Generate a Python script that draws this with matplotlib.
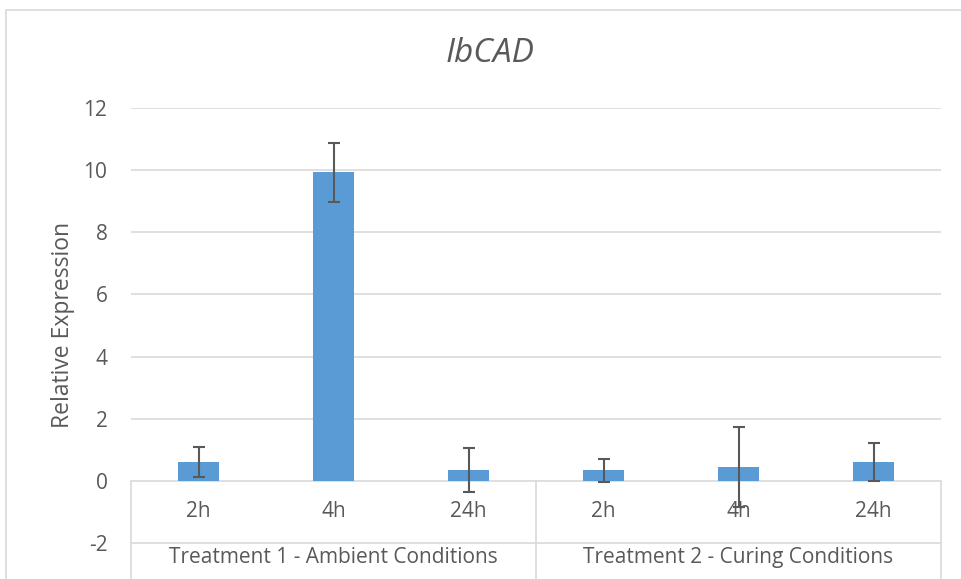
import matplotlib
matplotlib.use("Agg")
import matplotlib.pyplot as plt
from matplotlib.patches import Rectangle
import numpy as np

times = ["2h", "4h", "24h", "2h", "4h", "24h"]
groups = ["Treatment 1 - Ambient Conditions", "Treatment 2 - Curing Conditions"]
values = [0.61, 9.93, 0.36, 0.34, 0.45, 0.60]
errors = [0.47, 0.95, 0.71, 0.37, 1.29, 0.62]
yticks = [-2, 0, 2, 4, 6, 8, 10, 12]

plt.rcParams['font.family'] = ['Open Sans', 'DejaVu Sans']
TXT = '#595959'
GRID = '#d9d9d9'

W, H = 961, 579
fig = plt.figure(figsize=(W/100, H/100), dpi=100)

# chart border
fig.patches.append(Rectangle((6/W, -0.1), 1.2, 1 - 10/H + 0.1, transform=fig.transFigure,
                             fill=False, edgecolor=GRID, linewidth=1.2))

left, right = 131/W, 941/W
bottom, top = 1 - 543/H, 1 - 108/H
ax = fig.add_axes([left, bottom, right - left, top - bottom])
ax.set_xlim(-0.5, 5.5)
ax.set_ylim(-2, 12)
for s in ax.spines.values():
    s.set_visible(False)
ax.set_xticks([])
ax.set_yticks(yticks)
ax.set_yticklabels([str(t) for t in yticks], fontsize=15, color=TXT)
ax.tick_params(axis='y', length=0, pad=17)

for t in yticks:
    if t > 0:
        ax.axhline(t, color=GRID, linewidth=1.2, zorder=0)
ax.axhline(0, color=GRID, linewidth=1.2, zorder=1)
ax.axhline(-2, color=GRID, linewidth=1.2, zorder=1, clip_on=False)

x = np.arange(len(values))
ax.bar(x, values, width=0.31, color='#5b9bd5', zorder=2)
ax.errorbar(x, values, yerr=errors, fmt='none', ecolor=TXT, elinewidth=1.5,
            capsize=4, capthick=1.5, zorder=3)

ppu = (543 - 108) / 14.0
# category labels
for xi, lab in zip(x, times):
    ax.text(xi, -(512 - 481) / ppu, lab, ha='center', va='center', fontsize=15, color=TXT)

# separators
for xs in [-0.5, 2.5, 5.5]:
    ax.plot([xs, xs], [0, -3.2], color=GRID, linewidth=1.2, clip_on=False, zorder=1)

for gi, g in enumerate(groups):
    ax.text(1 + 3*gi, -(558 - 481) / ppu, g, ha='center', va='center', fontsize=15,
            color=TXT, clip_on=False)

ax.set_ylabel("Relative Expression", fontsize=16.5, color=TXT)
ax.yaxis.set_label_coords(-(131 - 75) / 810, (543 - 325) / (543 - 108))

fig.text(490/W, 1 - 53/H, "IbCAD", ha='center', va='center', fontsize=24,
         fontstyle='italic', color=TXT)

fig.savefig("out.png", dpi=100)
